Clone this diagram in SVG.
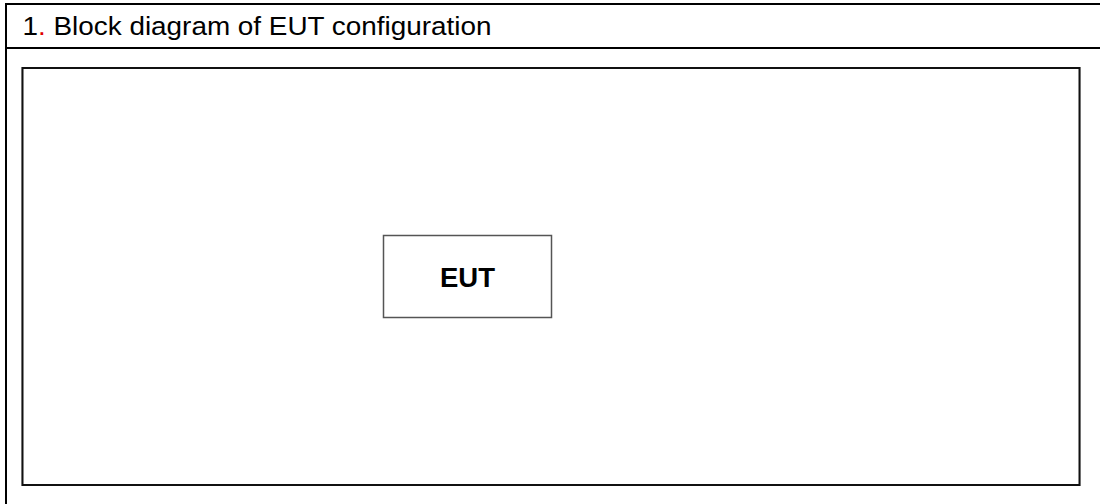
<svg xmlns="http://www.w3.org/2000/svg" width="1100" height="504" viewBox="0 0 1100 504">
<style>
.frame{stroke:#000;stroke-width:2;fill:none}
.title{font-family:"Liberation Sans",Arial,sans-serif;font-size:25px;fill:#000}
.lbl{font-family:"Liberation Sans",Arial,sans-serif;font-size:27.5px;font-weight:bold;fill:#000}
</style>
<rect width="1100" height="504" fill="#fff"/>
<g id="frame">
<line class="frame" x1="6" y1="4" x2="1100" y2="4"/>
<line class="frame" x1="6" y1="48" x2="1100" y2="48"/>
<line class="frame" x1="6" y1="3" x2="6" y2="504"/>
<text class="title" x="22.5" y="34.5" textLength="469" lengthAdjust="spacingAndGlyphs">1<tspan fill="#e00000">.</tspan> Block diagram of EUT configuration</text>
</g>
<g id="config-area">
<rect x="22" y="67.5" width="1058" height="418" fill="none" stroke="#aaa" stroke-width="1"/>
<rect x="22.5" y="68" width="1057" height="417" fill="none" stroke="#111" stroke-width="2"/>
</g>
<g id="eut">
<rect x="383.5" y="235.5" width="168" height="82" fill="#fff" stroke="#555" stroke-width="1.5"/>
<text class="lbl" x="467.5" y="286.5" text-anchor="middle">EUT</text>
</g>
<g id="connectors"/>
</svg>
